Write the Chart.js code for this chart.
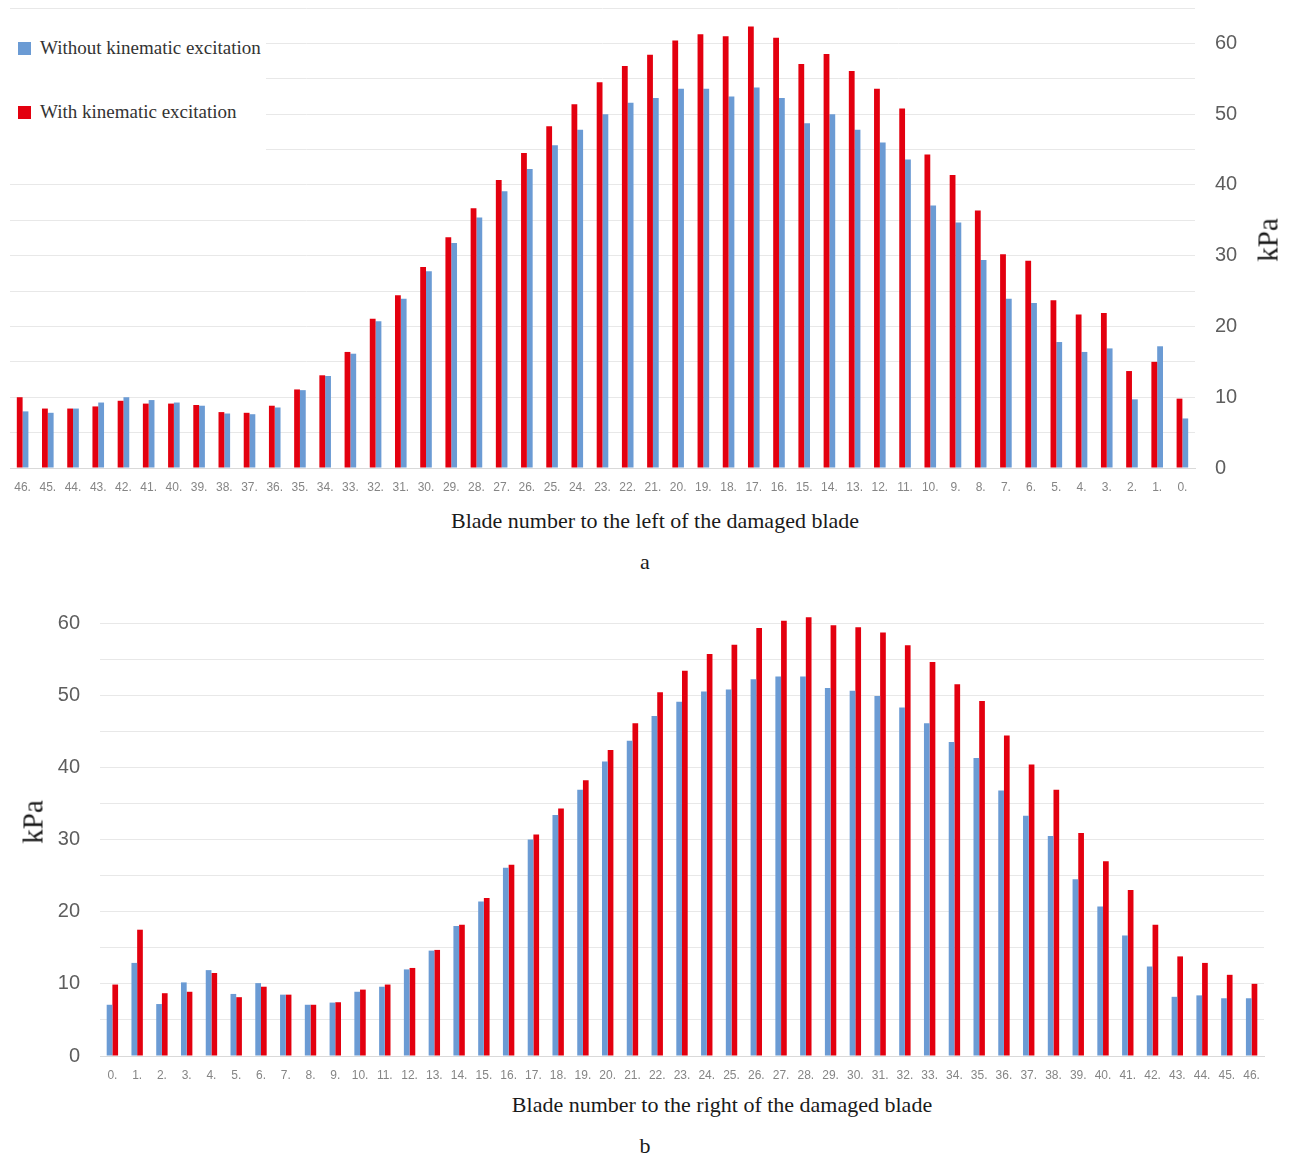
<!DOCTYPE html>
<html>
<head>
<meta charset="utf-8">
<script src="https://cdn.jsdelivr.net/npm/chart.js@4.4.0/dist/chart.umd.min.js"></script>
<style>
  body { margin: 0; background: #fff; width: 1291px; height: 1159px; position: relative; overflow: hidden; }
  canvas { position: absolute; left: 0; }
  .serif { position: absolute; font-family: "Liberation Serif", "Times New Roman", serif; color: #1a1a1a; white-space: nowrap; }
  .center { transform: translate(-50%, -50%); }
  .rot { transform: translate(-50%, -50%) rotate(-90deg); }
  #legend { position: absolute; left: 0; top: 16px; width: 266px; height: 142px; background: #fff; }
  .item { position: absolute; left: 18px; font-family: "Liberation Serif", "Times New Roman", serif; font-size: 19px; color: #333; white-space: nowrap; }
  .sw { display: inline-block; width: 13px; height: 13px; margin-right: 9px; vertical-align: -1px; }
</style>
</head>
<body>
<canvas id="chartLeft" width="1291" height="532" style="top:-32px"></canvas>
<canvas id="chartRight" width="1291" height="507" style="top:583px"></canvas>

<div id="legend">
  <div class="item" style="top:21px"><span class="sw" style="background:#6b9bd4"></span>Without kinematic excitation</div>
  <div class="item" style="top:85px"><span class="sw" style="background:#e3000f"></span>With kinematic excitation</div>
</div>

<div class="serif center" style="left:655px; top:521px; font-size:22px">Blade number to the left of the damaged blade</div>
<div class="serif center" style="left:645px; top:562px; font-size:22px">a</div>
<div class="serif rot" style="left:1268px; top:240px; font-size:29px">kPa</div>

<div class="serif center" style="left:722px; top:1105px; font-size:22px">Blade number to the right of the damaged blade</div>
<div class="serif center" style="left:645px; top:1146px; font-size:22px">b</div>
<div class="serif rot" style="left:33px; top:822px; font-size:29px">kPa</div>

<script>
// Chart a: blades to the left of the damaged blade (46 ... 0)
const leftLabels = ['46.','45.','44.','43.','42.','41.','40.','39.','38.','37.','36.','35.','34.','33.','32.','31.',
  '30.','29.','28.','27.','26.','25.','24.','23.','22.','21.','20.','19.','18.','17.','16.','15.','14.','13.',
  '12.','11.','10.','9.','8.','7.','6.','5.','4.','3.','2.','1.','0.'];
const leftWith = [10.0, 8.4, 8.4, 8.7, 9.5, 9.1, 9.1, 8.9, 7.9, 7.8, 8.8, 11.1, 13.1, 16.4, 21.1, 24.4,
  28.4, 32.6, 36.7, 40.7, 44.5, 48.3, 51.4, 54.5, 56.8, 58.4, 60.4, 61.3, 61.0, 62.4, 60.8, 57.1, 58.5, 56.1,
  53.6, 50.8, 44.3, 41.4, 36.4, 30.2, 29.3, 23.7, 21.7, 21.9, 13.7, 15.0, 9.8];
const leftWithout = [8.0, 7.8, 8.4, 9.25, 10.0, 9.6, 9.25, 8.8, 7.7, 7.6, 8.55, 11.0, 13.0, 16.15, 20.75, 23.9,
  27.8, 31.8, 35.4, 39.1, 42.25, 45.6, 47.8, 50.0, 51.6, 52.3, 53.6, 53.6, 52.5, 53.75, 52.3, 48.7, 50.0, 47.8,
  46.0, 43.6, 37.1, 34.7, 29.4, 23.9, 23.3, 17.8, 16.4, 16.9, 9.7, 17.2, 7.0];

// Chart b: blades to the right of the damaged blade (0 ... 46)
const rightLabels = ['0.','1.','2.','3.','4.','5.','6.','7.','8.','9.','10.','11.','12.','13.','14.','15.',
  '16.','17.','18.','19.','20.','21.','22.','23.','24.','25.','26.','27.','28.','29.','30.','31.','32.','33.',
  '34.','35.','36.','37.','38.','39.','40.','41.','42.','43.','44.','45.','46.'];
const rightWithout = [7.1, 12.9, 7.2, 10.2, 11.9, 8.6, 10.1, 8.5, 7.1, 7.4, 8.9, 9.6, 12.0, 14.6, 18.0, 21.4,
  26.1, 30.0, 33.4, 36.9, 40.8, 43.7, 47.1, 49.1, 50.5, 50.8, 52.2, 52.6, 52.6, 51.0, 50.6, 49.9, 48.3, 46.1,
  43.5, 41.3, 36.8, 33.3, 30.5, 24.5, 20.7, 16.7, 12.4, 8.2, 8.4, 8.0, 8.0];
const rightWith = [9.9, 17.5, 8.7, 8.9, 11.5, 8.15, 9.6, 8.5, 7.1, 7.45, 9.2, 9.9, 12.2, 14.7, 18.2, 21.9,
  26.5, 30.7, 34.3, 38.2, 42.4, 46.1, 50.4, 53.4, 55.7, 57.0, 59.3, 60.3, 60.8, 59.7, 59.4, 58.7, 56.9, 54.6,
  51.5, 49.2, 44.4, 40.4, 36.9, 30.9, 27.0, 23.0, 18.2, 13.8, 12.9, 11.25, 10.0];

const BLUE = '#6b9bd4';
const RED = '#e3000f';

function barSet(label, data, color) {
    return {
        label: label,
        data: data,
        backgroundColor: color,
        borderWidth: 0,
        categoryPercentage: 0.46,
        barPercentage: 1.0,
        clip: false
    };
}

// the top padding is bigger than what the y tick labels ask for, so the plot top is fixed
function makeOptions(cfg) {
    return {
        responsive: false,
        animation: false,
        devicePixelRatio: 1,
        layout: { padding: cfg.padding },
        plugins: { legend: { display: false }, tooltip: { enabled: false } },
        scales: {
            x: {
                grid: { display: false, drawTicks: false },
                border: { display: true, color: '#d9d9d9' },
                ticks: {
                    autoSkip: false, maxRotation: 0, minRotation: 0, padding: 12,
                    color: '#858585', font: { family: 'Liberation Sans, Arial, sans-serif', size: 12 }
                },
                afterFit: s => { s.height = cfg.xHeight; }
            },
            y: {
                position: cfg.yPos,
                min: 0,
                max: cfg.yMax,
                grid: { color: '#e8e8e8', drawTicks: false },
                border: { display: false },
                ticks: {
                    stepSize: 5, padding: 20,
                    color: '#5e5e5e', font: { family: 'Liberation Sans, Arial, sans-serif', size: 20 },
                    callback: v => (v % 10 === 0 ? v : '')
                },
                afterFit: s => { s.width = cfg.yWidth; }
            }
        }
    };
}

new Chart(document.getElementById('chartLeft'), {
    type: 'bar',
    data: {
        labels: leftLabels,
        datasets: [
            barSet('With kinematic excitation', leftWith, RED),
            barSet('Without kinematic excitation', leftWithout, BLUE)
        ]
    },
    options: makeOptions({ padding: { left: 10, top: 40, right: 0, bottom: 0 }, xHeight: 31, yWidth: 96, yPos: 'right', yMax: 65 })
});

new Chart(document.getElementById('chartRight'), {
    type: 'bar',
    data: {
        labels: rightLabels,
        datasets: [
            barSet('Without kinematic excitation', rightWithout, BLUE),
            barSet('With kinematic excitation', rightWith, RED)
        ]
    },
    options: makeOptions({ padding: { left: 0, top: 40, right: 27, bottom: 0 }, xHeight: 34, yWidth: 100, yPos: 'left', yMax: 60 })
});
</script>
</body>
</html>
